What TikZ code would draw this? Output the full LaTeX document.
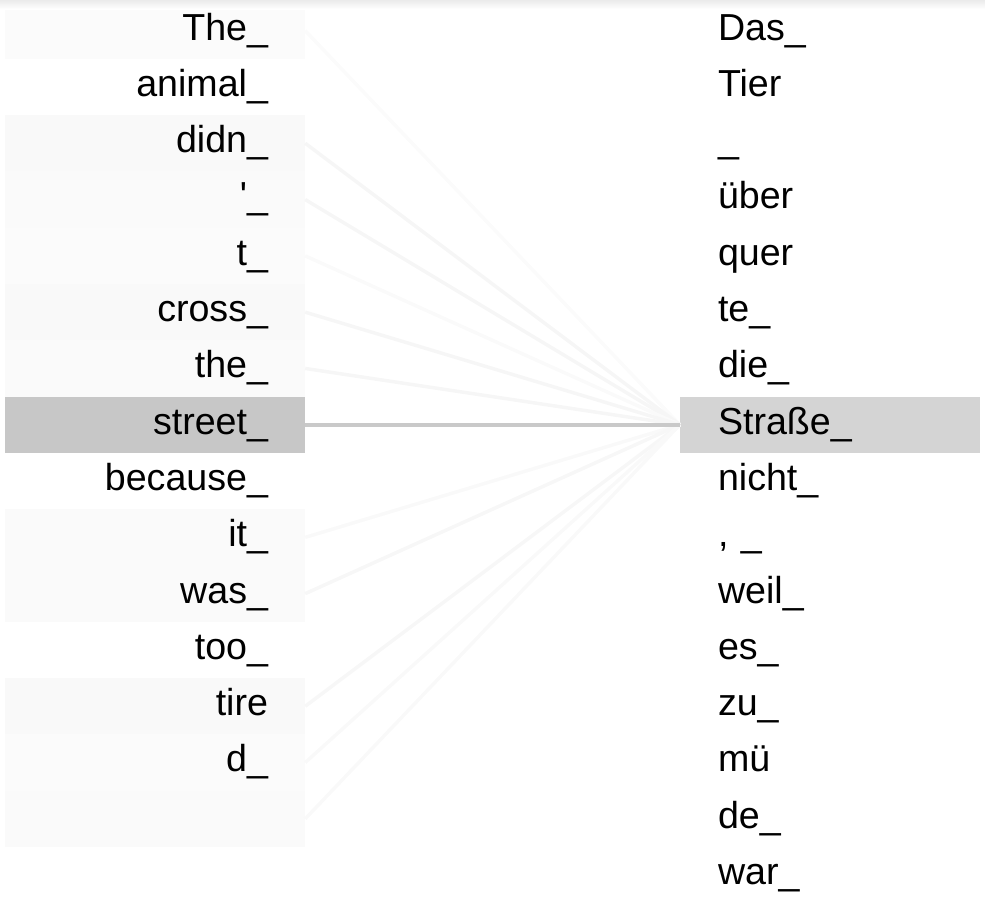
\documentclass[tikz,border=0pt]{standalone}
\usepackage{fontspec}
\setmainfont{Liberation Sans}
\begin{document}
\begin{tikzpicture}[x=1pt, y=-1pt, font=\fontsize{37.6}{45}\selectfont,
	tok/.style={minimum width=300pt, minimum height=56.3pt, inner ysep=0pt, text height=26pt, text depth=7.2pt},
	ltok/.style={tok, inner xsep=37pt, text width=226pt, align=right},
	rtok/.style={tok, inner xsep=38pt, text width=224pt, align=left},
	att/.style={line width=3.5pt, line cap=butt}]
	\useasboundingbox (0,0) rectangle (985,906);
	\foreach \t/\c [count=\i from 0] in {The\_/1.5, animal\_/0, didn\_/2.5, \textquotesingle\_/2, t\_/1.5, cross\_/2.5, the\_/2, street\_/22, because\_/0, it\_/2, was\_/2, too\_/0, tire/2.5, d\_/1.5, /2}
		\node[ltok, fill=black!\c] (l\i) at (155,30.65+56.3*\i) {\t};
	\foreach \t/\c [count=\i from 0] in {Das\_/0, Tier/0, \_/0, über/0, quer/0, te\_/0, die\_/0, Straße\_/17, nicht\_/0, {, \_}/0, weil\_/0, es\_/0, zu\_/0, mü/0, de\_/0, war\_/0}
		\node[rtok, fill=black!\c] (r\i) at (830,30.65+56.3*\i) {\t};
	\foreach \i/\c in {0/1.5, 2/3.5, 3/3.5, 4/2, 5/3.5, 6/3.5, 9/2.5, 10/3, 12/3, 13/2.5, 14/2.5}
		\draw[att, black!\c] (l\i.east) -- (r7.west);
	\draw[att, line width=4pt, black!21] (l7.east) -- (r7.west);
	\shade[top color=black!8, bottom color=white] (0,0) rectangle (985,9);
\end{tikzpicture}
\end{document}
